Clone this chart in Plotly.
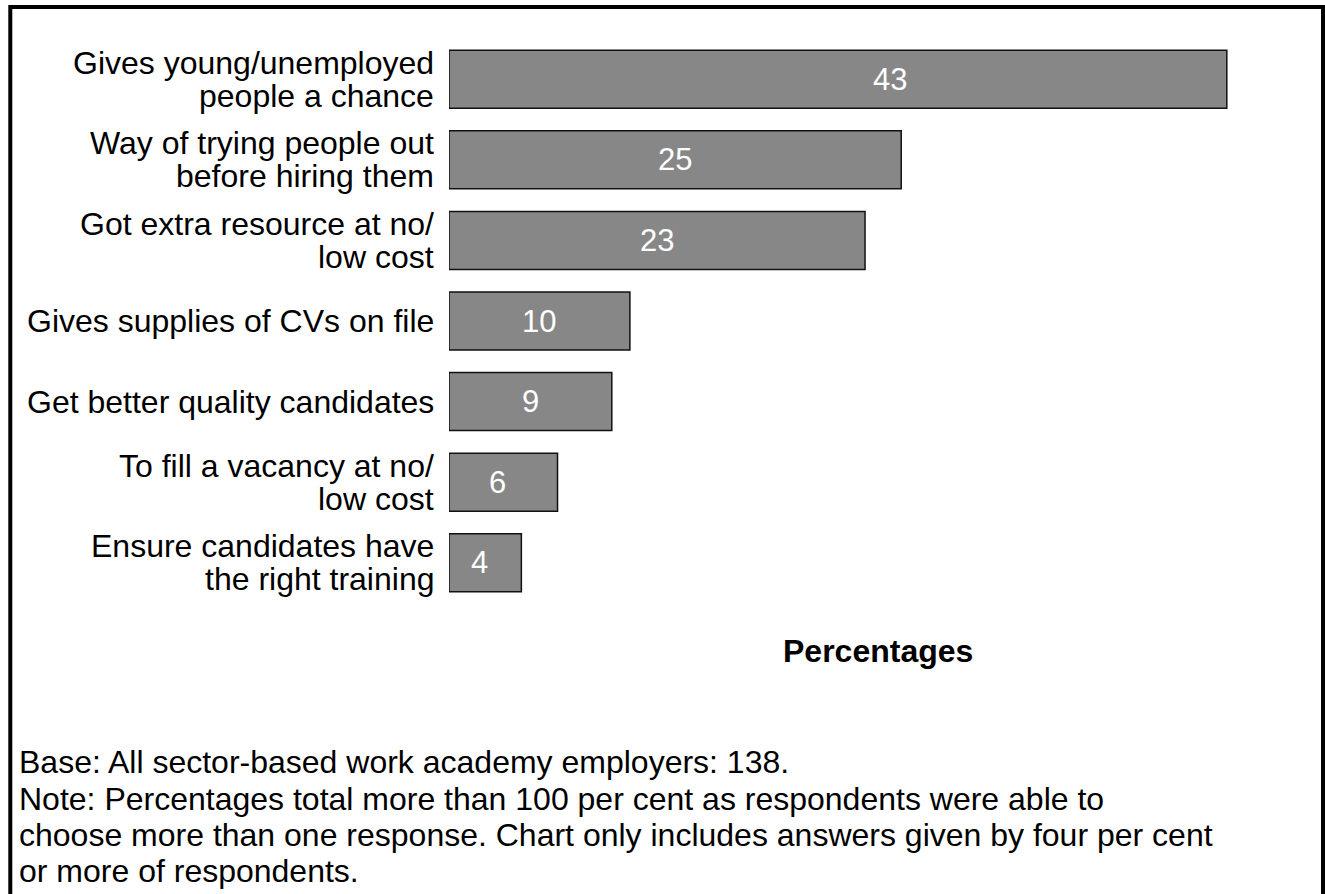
import plotly.graph_objects as go

categories = [
    "Gives young/unemployed\npeople a chance",
    "Way of trying people out\nbefore hiring them",
    "Got extra resource at no/\nlow cost",
    "Gives supplies of CVs on file",
    "Get better quality candidates",
    "To fill a vacancy at no/\nlow cost",
    "Ensure candidates have\nthe right training",
]
values = [43, 25, 23, 10, 9, 6, 4]
axis_title = "Percentages"
footnote_lines = [
    "Base: All sector-based work academy employers: 138.",
    "Note: Percentages total more than 100 per cent as respondents were able to",
    "choose more than one response. Chart only includes answers given by four per cent",
    "or more of respondents.",
]

# style-only settings
FONT = "Liberation Sans, Arial, sans-serif"
FS = 32
value_xshift = [52, 0, 0, 0, 0, -6, -6]

W, H = 1325, 894
L, R, T, B = 449, 62, 39, 291
plot_w = W - L - R
plot_h = H - T - B

def px_to_paper_x(px):
    return (px - L) / plot_w

def px_to_paper_y(py):
    return (H - B - py) / plot_h

fig = go.Figure()
fig.add_trace(go.Bar(
    x=values,
    y=categories,
    orientation="h",
    width=0.72,
    marker=dict(color="#878787", line=dict(color="#111111", width=1.5)),
    hoverinfo="x+y",
    showlegend=False,
))

annotations = []
# category labels (line by line, right aligned)
for cat in categories:
    lines = cat.split("\n")
    n = len(lines)
    for i, line in enumerate(lines):
        shift = ((n - 1) / 2 - i) * 33
        annotations.append(dict(
            text=line, xref="paper", yref="y", x=0, y=cat,
            xanchor="right", yanchor="middle", align="right",
            xshift=-13, yshift=shift, showarrow=False,
            font=dict(family=FONT, size=FS, color="#000000"),
        ))

# value labels inside bars
for cat, v, xs in zip(categories, values, value_xshift):
    annotations.append(dict(
        text=str(v), xref="x", yref="y", x=v / 2, y=cat,
        xanchor="center", yanchor="middle", xshift=xs, showarrow=False,
        font=dict(family=FONT, size=31, color="#ffffff"),
    ))

# axis title
annotations.append(dict(
    text="<b>%s</b>" % axis_title, xref="paper", yref="paper",
    x=px_to_paper_x(878), y=px_to_paper_y(651),
    xanchor="center", yanchor="middle", showarrow=False,
    font=dict(family=FONT, size=FS, color="#000000"),
))

# footnote lines
for i, line in enumerate(footnote_lines):
    annotations.append(dict(
        text=line, xref="paper", yref="paper",
        x=px_to_paper_x(17), y=px_to_paper_y(762 + i * 36.5),
        xanchor="left", yanchor="middle", align="left", showarrow=False,
        font=dict(family=FONT, size=FS, color="#000000"),
    ))

fig.update_layout(
    width=W, height=H,
    margin=dict(l=L, r=R, t=T, b=B, pad=0),
    paper_bgcolor="#ffffff",
    plot_bgcolor="#ffffff",
    font=dict(family=FONT, size=FS, color="#000000"),
    xaxis=dict(range=[0, 45], visible=False, fixedrange=True),
    yaxis=dict(
        type="category",
        categoryorder="array",
        categoryarray=categories,
        autorange="reversed",
        showticklabels=False,
        showgrid=False, zeroline=False, showline=False, ticks="",
        fixedrange=True,
    ),
    annotations=annotations,
    shapes=[dict(
        type="rect", xref="paper", yref="paper",
        x0=px_to_paper_x(10.3), x1=px_to_paper_x(1323),
        y0=px_to_paper_y(7), y1=px_to_paper_y(905),
        line=dict(color="#000000", width=4), fillcolor="rgba(0,0,0,0)",
        layer="above",
    )],
)

fig.write_html(
    "out.html",
    config={"displayModeBar": False},
    post_script="document.body.style.margin='0';document.body.style.overflow='hidden';",
)
